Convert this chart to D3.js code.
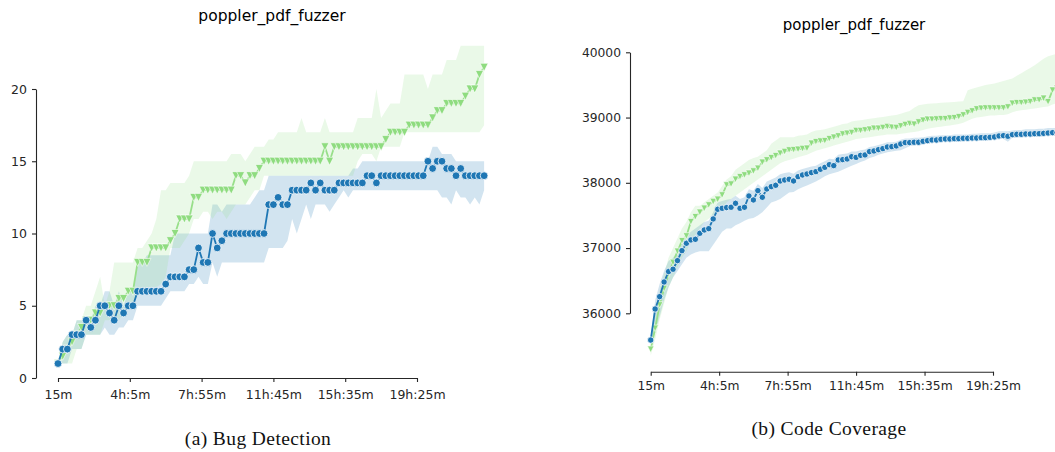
<!DOCTYPE html>
<html>
<head>
<meta charset="utf-8">
<script src="https://cdn.jsdelivr.net/npm/d3@7"></script>
<style>
  body { margin: 0; background: #fff; }
  svg { display: block; }
</style>
</head>
<body>
<svg id="fig" width="1055" height="452"></svg>
<script>
// sample times in minutes (every 15m from 15m up to 23h)
var minutes = d3.range(15, 1381, 15);
var tickMinutes = [15, 245, 475, 705, 935, 1165];
var tickLabels = ['15m', '4h:5m', '7h:55m', '11h:45m', '15h:35m', '19h:25m'];

// (a) bug detection
var bugBlue = [
  1, 2, 2, 3, 3, 3, 4, 3.5, 4, 5,
  5, 4.5, 4, 5, 4.5, 5, 5, 6, 6, 6,
  6, 6, 6, 6.5, 7, 7, 7, 7, 7.5, 7.5,
  9, 8, 8, 10, 9, 9.5, 10, 10, 10, 10,
  10, 10, 10, 10, 10, 12, 12, 12.5, 12, 12,
  13, 13, 13, 13, 13.5, 13, 13.5, 13, 13, 13,
  13.5, 13.5, 13.5, 13.5, 13.5, 13.5, 14, 14, 13.5, 14,
  14, 14, 14, 14, 14, 14, 14, 14, 14, 15,
  14.5, 15, 15, 14.5, 14.5, 14, 14.5, 14, 14, 14, 14, 14
];
var bugBlueLo = [
  1, 1, 1, 2, 2, 2, 3, 3, 3, 3,
  3.5, 3, 3, 3.5, 3.5, 4, 4, 5, 5, 5,
  5, 5, 5, 5.5, 6, 6, 6, 6, 6.5, 6.5,
  7, 6.5, 6.5, 8, 7, 8, 8, 8, 8, 8,
  8, 8, 8, 8, 8, 9, 9, 9, 9, 9.5,
  11, 10, 11, 12, 11, 12, 12, 12, 11.5, 12,
  12.5, 13, 12.5, 13, 13, 13, 13, 13, 13, 13,
  13, 13, 13, 13, 13, 13, 13, 13, 13, 13,
  13, 13, 12.5, 12.5, 12, 13, 12.5, 12.5, 12, 12.5, 12, 13
];
var bugBlueHi = [
  1, 2.5, 3, 3, 4, 4, 4, 4, 5, 5,
  6, 6, 5, 6, 5, 6, 6, 8, 8, 8.5,
  8.5, 8.5, 8.5, 8.5, 8.5, 10, 10, 10, 10, 10,
  10, 10, 10, 12, 12, 11.5, 12, 12, 12, 12,
  12, 12, 12.5, 13, 13, 14, 14, 14, 14, 14,
  14, 14, 14, 14, 14, 14, 14, 14, 14, 14,
  14, 14, 14, 14.5, 14.5, 15, 15, 15, 15, 15,
  15, 15, 15, 15, 15, 15, 15, 15, 15, 15,
  16, 16, 15.5, 15.5, 15.5, 15, 15, 15, 15, 15, 15, 15
];
var bugGreen = [
  1, 1.5, 2, 2.5, 3, 3.5, 4, 4, 4.5, 4.5,
  5, 5, 5, 5.5, 5.5, 6, 6, 8, 8, 8,
  9, 9, 9, 9, 9.5, 10, 11, 11, 11, 12.5,
  12.5, 13, 13, 13, 13, 13, 13, 13, 14, 14,
  13.5, 14, 14, 14.5, 15, 15, 15, 15, 15, 15,
  15, 15, 15, 15, 15, 15, 15, 16, 15, 16,
  16, 16, 16, 16, 16, 16, 16, 16, 16, 16,
  16.5, 17, 17, 17, 17, 17.5, 17.5, 17.5, 17.5, 17.5,
  18, 18.5, 18.5, 19, 19, 19, 19, 19.5, 20, 20, 21, 21.5
];
var bugGreenLo = [
  0.8, 1, 1, 1, 2, 2, 3, 3, 3, 3,
  4, 4, 4, 4, 4.5, 5, 5, 6, 6, 6.3,
  6.3, 6.3, 6.5, 7, 9, 9, 9, 9.5, 10, 11,
  11, 11.5, 11.5, 11, 11.5, 11.5, 11, 11.5, 12, 12,
  12, 12.5, 13, 13, 14, 14, 14, 14, 14, 14,
  14, 14, 14, 14, 14, 14, 14, 14, 14, 14,
  14, 14, 14, 14, 15, 15.5, 15.5, 15.5, 15, 16,
  16, 16, 16, 16, 17, 17, 17, 17, 17, 17,
  17, 17, 17, 17, 17, 17, 17, 17, 17, 17, 17, 17.5
];
var bugGreenHi = [
  1.2, 2.5, 3, 3, 4, 4, 5, 5, 6, 7,
  5, 6, 8, 8, 8, 8, 8, 9, 9, 9.5,
  10, 11, 13, 13, 13.5, 13.5, 13.5, 13.5, 14, 15,
  15, 15, 15, 15, 15, 15, 15, 15.5, 15.5, 15.5,
  15, 15.5, 16, 16, 16, 16.5, 16.5, 17, 17, 17,
  17, 17, 18, 17, 17, 17, 17, 18, 17, 17,
  17, 17, 17, 17, 18, 18, 18, 18, 20, 18,
  18.5, 19, 19, 19, 21, 21, 21, 21, 21, 20,
  21, 21, 21, 22, 22, 22, 23, 23, 23, 23, 23, 23
];

// (b) code coverage
var covBlue = [
  35590, 36066, 36255, 36480, 36640, 36675, 36807, 36960, 37073, 37124,
  37134, 37226, 37277, 37297, 37446, 37594, 37609, 37620, 37625, 37686,
  37609, 37625, 37798, 37737, 37880, 37778, 37905, 37941, 37962, 38028,
  38043, 38054, 38028, 38094, 38120, 38135, 38156, 38171, 38207, 38237,
  38278, 38263, 38350, 38355, 38365, 38400, 38390, 38421, 38427, 38478,
  38488, 38508, 38524, 38549, 38554, 38565, 38595, 38616, 38616, 38621,
  38621, 38636, 38646, 38656, 38656, 38667, 38672, 38672, 38677, 38677,
  38682, 38682, 38687, 38687, 38692, 38692, 38697, 38703, 38718, 38723,
  38713, 38738, 38743, 38743, 38748, 38748, 38753, 38753, 38758, 38763, 38769, 38769
];
var covBlueLo = [
  35550, 35700, 35950, 36200, 36400, 36550, 36650, 36750, 36850, 36900,
  36930, 36950, 36950, 36950, 37050, 37150, 37250, 37300, 37300, 37350,
  37380, 37420, 37450, 37460, 37500, 37550, 37620, 37700, 37720, 37750,
  37800, 37850, 37860, 37900, 37930, 37960, 37990, 38020, 38060, 38100,
  38130, 38150, 38170, 38200, 38230, 38260, 38290, 38320, 38340, 38380,
  38400, 38430, 38450, 38470, 38480, 38490, 38500, 38530, 38560, 38580,
  38590, 38600, 38610, 38620, 38620, 38630, 38630, 38630, 38640, 38640,
  38640, 38640, 38650, 38650, 38650, 38660, 38660, 38660, 38670, 38670,
  38630, 38690, 38700, 38700, 38700, 38710, 38710, 38710, 38720, 38720, 38720, 38720
];
var covBlueHi = [
  35640, 36200, 36450, 36650, 36800, 36850, 36950, 37100, 37200, 37250,
  37300, 37350, 37400, 37420, 37550, 37700, 37720, 37740, 37750, 37800,
  37750, 37780, 37900, 37880, 37980, 37920, 38020, 38050, 38080, 38130,
  38150, 38160, 38140, 38190, 38210, 38230, 38250, 38260, 38300, 38330,
  38370, 38360, 38430, 38440, 38450, 38480, 38480, 38500, 38510, 38550,
  38560, 38580, 38600, 38620, 38620, 38630, 38660, 38680, 38680, 38690,
  38690, 38700, 38710, 38720, 38720, 38730, 38730, 38730, 38740, 38740,
  38740, 38740, 38750, 38750, 38760, 38760, 38760, 38770, 38790, 38790,
  38790, 38800, 38810, 38810, 38820, 38820, 38820, 38830, 38830, 38840, 38840, 38840
];
var covGreen = [
  35448, 35770, 36128, 36380, 36600, 36780, 36950, 37112, 37185, 37404,
  37480, 37548, 37609, 37660, 37712, 37746, 37813, 37966, 37980, 38053,
  38094, 38120, 38146, 38180, 38222, 38314, 38350, 38385, 38416, 38452,
  38478, 38503, 38508, 38513, 38524, 38529, 38605, 38630, 38640, 38646,
  38677, 38698, 38718, 38748, 38758, 38769, 38800, 38800, 38810, 38820,
  38835, 38835, 38846, 38861, 38851, 38846, 38872, 38892, 38907, 38897,
  38932, 38958, 38973, 38973, 38978, 38983, 38983, 38993, 38998, 39014,
  39040, 39076, 39101, 39132, 39142, 39147, 39147, 39147, 39147, 39147,
  39162, 39218, 39228, 39228, 39233, 39244, 39269, 39269, 39295, 39243, 39420, 39450
];
var covGreenLo = [
  35350, 35600, 35900, 36150, 36400, 36550, 36700, 36850, 36950, 37100,
  37200, 37300, 37400, 37450, 37500, 37550, 37600, 37700, 37750, 37800,
  37850, 37900, 37950, 38000, 38050, 38100, 38150, 38200, 38250, 38300,
  38330, 38350, 38370, 38390, 38410, 38430, 38460, 38490, 38510, 38530,
  38550, 38570, 38590, 38610, 38630, 38650, 38670, 38680, 38690, 38700,
  38710, 38720, 38730, 38740, 38740, 38740, 38750, 38760, 38770, 38780,
  38790, 38810, 38830, 38840, 38850, 38860, 38870, 38880, 38890, 38900,
  38920, 38950, 38980, 39000, 39010, 39020, 39030, 39030, 39040, 39040,
  39050, 39080, 39100, 39110, 39120, 39130, 39140, 39150, 39160, 39170, 39200, 39220
];
var covGreenHi = [
  35550, 36000, 36350, 36600, 36850, 37000, 37150, 37300, 37400, 37550,
  37650, 37650, 37700, 37750, 37800, 37850, 37950, 38050, 38100, 38200,
  38250, 38300, 38350, 38380, 38400, 38450, 38500, 38600, 38650, 38700,
  38700, 38700, 38700, 38720, 38730, 38740, 38780, 38800, 38810, 38820,
  38840, 38860, 38880, 38900, 38910, 38940, 38950, 38960, 38970, 38980,
  38990, 39000, 39010, 39020, 39030, 39040, 39060, 39080, 39100, 39150,
  39190, 39200, 39210, 39215, 39220, 39225, 39230, 39235, 39240, 39245,
  39250, 39420, 39440, 39460, 39480, 39500, 39510, 39520, 39540, 39560,
  39580, 39600, 39640, 39680, 39720, 39760, 39800, 39850, 39900, 39940, 39960, 39980
];

var BLUE = '#1f77b4', GREEN = '#98df8a', INK = '#262626';

var svg = d3.select('#fig');

function panel(cfg) {
    var g = svg.append('g');
    var x = d3.scaleLinear().domain([15, 1165]).range(cfg.xRange);
    var y = d3.scaleLinear().domain(cfg.yDomain).range(cfg.yRange);

    var area = function(lo, hi) {
        return d3.area()
            .x(function(d, i) { return x(minutes[i]); })
            .y0(function(d, i) { return y(lo[i]); })
            .y1(function(d, i) { return y(hi[i]); })(minutes);
    };
    var line = d3.line()
        .x(function(d, i) { return x(minutes[i]); })
        .y(function(d) { return y(d); });

    g.append('path').attr('d', area(cfg.blueLo, cfg.blueHi))
        .attr('fill', BLUE).attr('fill-opacity', 0.2);
    g.append('path').attr('d', area(cfg.greenLo, cfg.greenHi))
        .attr('fill', GREEN).attr('fill-opacity', 0.2);

    // green series (triangles), then blue (circles) on top
    g.append('path').attr('d', line(cfg.green))
        .attr('fill', 'none').attr('stroke', GREEN).attr('stroke-width', 1.8);
    var s = cfg.tri;
    g.selectAll('path.tri').data(cfg.green).enter().append('path')
        .attr('class', 'tri')
        .attr('transform', function(d, i) { return 'translate(' + x(minutes[i]) + ',' + y(d) + ')'; })
        .attr('d', 'M' + (-s / 2) + ',' + (-s / 2) + 'L' + (s / 2) + ',' + (-s / 2) + 'L0,' + (s / 2) + 'Z')
        .attr('fill', '#8fdc80').attr('stroke', '#fff').attr('stroke-width', 0.6);

    g.append('path').attr('d', line(cfg.blue))
        .attr('fill', 'none').attr('stroke', BLUE).attr('stroke-width', 1.8);
    g.selectAll('circle.pt').data(cfg.blue).enter().append('circle')
        .attr('class', 'pt')
        .attr('cx', function(d, i) { return x(minutes[i]); })
        .attr('cy', function(d) { return y(d); })
        .attr('r', cfg.r)
        .attr('fill', BLUE).attr('stroke', '#fff').attr('stroke-width', 0.8);

    // trimmed spines, seaborn style
    var yAxis = d3.axisLeft(y).tickValues(cfg.yTicks).tickFormat(d3.format('d'))
        .tickSize(4).tickPadding(5).tickSizeOuter(0);
    var xAxis = d3.axisBottom(x).tickValues(tickMinutes)
        .tickFormat(function(d, i) { return tickLabels[i]; })
        .tickSize(4).tickPadding(cfg.xPad).tickSizeOuter(0);

    var ya = g.append('g').attr('transform', 'translate(' + cfg.yAxisX + ',0)').call(yAxis);
    var xa = g.append('g').attr('transform', 'translate(0,' + cfg.xAxisY + ')').call(xAxis);
    [ya, xa].forEach(function(a) {
        a.selectAll('path.domain').attr('stroke', INK).attr('stroke-width', 1.1);
        a.selectAll('line').attr('stroke', INK).attr('stroke-width', 1.1);
        a.selectAll('text').attr('fill', INK)
            .style('font-family', 'DejaVu Sans').style('font-size', cfg.fs + 'px');
    });

    g.append('text').attr('x', cfg.title[0]).attr('y', cfg.title[1])
        .attr('text-anchor', 'middle').attr('fill', '#000')
        .style('font-family', 'DejaVu Sans').style('font-size', cfg.tfs + 'px')
        .text('poppler_pdf_fuzzer');

    g.append('text').attr('x', cfg.caption[0]).attr('y', cfg.caption[1])
        .attr('text-anchor', 'middle').attr('fill', '#111')
        .style('font-family', 'Liberation Serif').style('font-size', '19.5px')
        .style('letter-spacing', '0.4px')
        .text(cfg.captionText);
}

panel({
    xRange: [58, 417], yDomain: [0, 20], yRange: [378, 89],
    yAxisX: 36, xAxisY: 378, yTicks: [0, 5, 10, 15, 20],
    fs: 12.5, tfs: 15.5, xPad: 8, r: 3.9, tri: 8,
    title: [272, 21], caption: [258, 445], captionText: '(a) Bug Detection',
    blue: bugBlue, blueLo: bugBlueLo, blueHi: bugBlueHi,
    green: bugGreen, greenLo: bugGreenLo, greenHi: bugGreenHi
});

panel({
    xRange: [650.7, 993], yDomain: [36000, 40000], yRange: [313.3, 52.3],
    yAxisX: 630, xAxisY: 371.7, yTicks: [36000, 37000, 38000, 39000, 40000],
    fs: 12.3, tfs: 15, xPad: 5.5, r: 3.2, tri: 6.5,
    title: [854, 30], caption: [829, 435], captionText: '(b) Code Coverage',
    blue: covBlue, blueLo: covBlueLo, blueHi: covBlueHi,
    green: covGreen, greenLo: covGreenLo, greenHi: covGreenHi
});
</script>
</body>
</html>
